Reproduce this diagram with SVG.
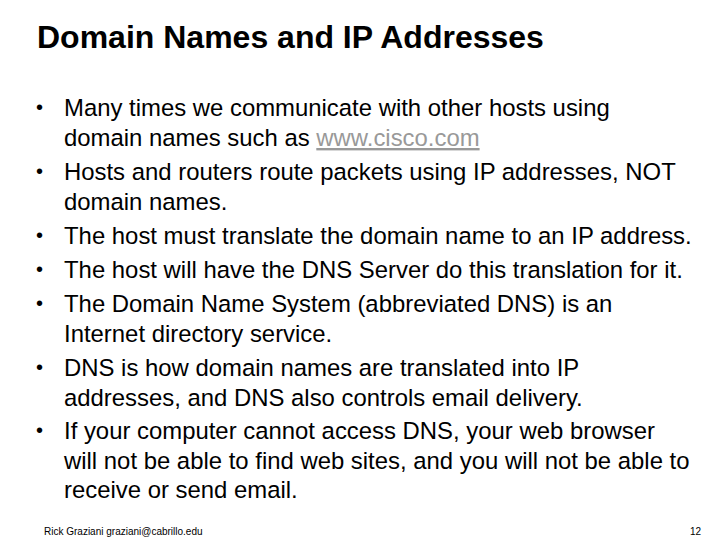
<svg xmlns="http://www.w3.org/2000/svg" width="720" height="540" viewBox="0 0 720 540">
<style>
text{font-family:"Liberation Sans",Arial,sans-serif;fill:#000}
.t{font-size:32px;font-weight:bold}
.b{font-size:23.9px}
.d{font-size:20px}
.f{font-size:10px}
</style>
<rect width="720" height="540" fill="#fff"/>
<g id="title"><text class="t" x="37" y="48">Domain Names and IP Addresses</text></g>
<g id="bullets">
<text class="d" x="36" y="114">•</text>
<text class="d" x="36" y="178">•</text>
<text class="d" x="36" y="242">•</text>
<text class="d" x="36" y="276">•</text>
<text class="d" x="36" y="310">•</text>
<text class="d" x="36" y="374">•</text>
<text class="d" x="36" y="437">•</text>
</g>
<g id="body" class="b">
<text class="b" x="64" y="116">Many times we communicate with other hosts using</text>
<text class="b" x="64" y="146">domain names such as <tspan fill="#999" text-decoration="underline">www.cisco.com</tspan></text>
<text class="b" x="64" y="180">Hosts and routers route packets using IP addresses, NOT</text>
<text class="b" x="64" y="210">domain names.</text>
<text class="b" x="64" y="244">The host must translate the domain name to an IP address.</text>
<text class="b" x="64" y="278">The host will have the DNS Server do this translation for it.</text>
<text class="b" x="64" y="312">The Domain Name System (abbreviated DNS) is an</text>
<text class="b" x="64" y="342">Internet directory service.</text>
<text class="b" x="64" y="376">DNS is how domain names are translated into IP</text>
<text class="b" x="64" y="406">addresses, and DNS also controls email delivery.</text>
<text class="b" x="64" y="439">If your computer cannot access DNS, your web browser</text>
<text class="b" x="64" y="469">will not be able to find web sites, and you will not be able to</text>
<text class="b" x="64" y="498">receive or send email.</text>
</g>
<g id="footer">
<text class="f" x="44" y="535">Rick Graziani  graziani@cabrillo.edu</text>
<text class="f" x="690" y="535">12</text>
</g>
</svg>
